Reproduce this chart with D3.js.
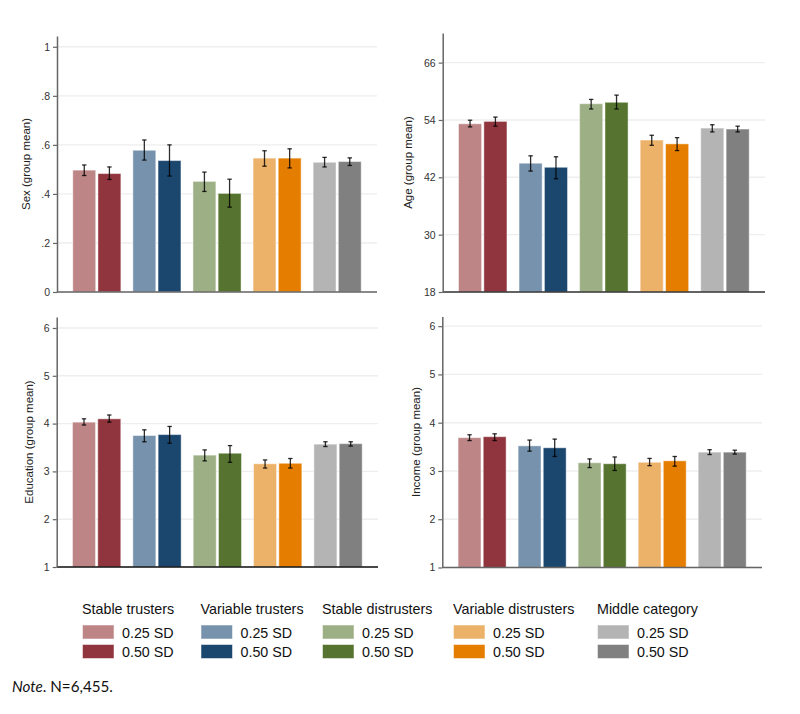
<!DOCTYPE html>
<html>
<head>
<meta charset="utf-8">
<script src="https://cdn.jsdelivr.net/npm/d3@7"></script>
<style>
  body { margin: 0; background: #fff; }
  svg { display: block; }
  .tick text { font-family: "Liberation Sans", Arial, sans-serif; font-size: 10.5px; fill: #333; }
</style>
</head>
<body>
<div id="chart"></div>
<script>
// groups and the two SD thresholds
let groups = ["Stable trusters", "Variable trusters", "Stable distrusters", "Variable distrusters", "Middle category"];
let sds = ["0.25 SD", "0.50 SD"];

// colours, light = 0.25 SD, dark = 0.50 SD
let lightColors = ["#be8587", "#7792ac", "#9daf85", "#edb26a", "#b4b4b4"];
let darkColors = ["#90353d", "#1b466e", "#56742f", "#e57e00", "#808080"];

// values, ordered group by group: [g1 0.25, g1 0.50, g2 0.25, g2 0.50, ...]
let sexMean = [0.497, 0.483, 0.578, 0.536, 0.451, 0.402, 0.546, 0.546, 0.529, 0.532];
let sexLow = [0.475, 0.459, 0.538, 0.473, 0.410, 0.346, 0.513, 0.506, 0.510, 0.516];
let sexHigh = [0.518, 0.510, 0.620, 0.600, 0.489, 0.460, 0.576, 0.584, 0.549, 0.547];

let ageMean = [53.2, 53.7, 44.95, 44.1, 57.4, 57.7, 49.8, 49.0, 52.3, 52.1];
let ageLow = [52.55, 52.7, 43.3, 41.7, 56.3, 56.3, 48.7, 47.6, 51.5, 51.5];
let ageHigh = [53.95, 54.6, 46.5, 46.3, 58.3, 59.2, 50.8, 50.3, 53.0, 52.7];

let eduMean = [4.03, 4.10, 3.75, 3.77, 3.34, 3.38, 3.16, 3.17, 3.57, 3.58];
let eduLow = [3.97, 4.03, 3.62, 3.59, 3.22, 3.19, 3.07, 3.07, 3.52, 3.53];
let eduHigh = [4.10, 4.18, 3.87, 3.94, 3.45, 3.54, 3.24, 3.27, 3.62, 3.62];

let incMean = [3.69, 3.71, 3.52, 3.48, 3.17, 3.15, 3.18, 3.21, 3.39, 3.39];
let incLow = [3.63, 3.63, 3.41, 3.30, 3.07, 3.01, 3.11, 3.10, 3.34, 3.35];
let incHigh = [3.75, 3.77, 3.64, 3.66, 3.25, 3.29, 3.26, 3.30, 3.44, 3.43];

// axis ticks
let sexTicks = [0, 0.2, 0.4, 0.6, 0.8, 1];
let sexTickLabels = ["0", ".2", ".4", ".6", ".8", "1"];
let ageTicks = [18, 30, 42, 54, 66];
let scaleTicks = [1, 2, 3, 4, 5, 6];

let panels = [
  { title: "Sex (group mean)", mean: sexMean, lo: sexLow, hi: sexHigh, domain: [0, 1.044], ticks: sexTicks, labels: sexTickLabels },
  { title: "Age (group mean)", mean: ageMean, lo: ageLow, hi: ageHigh, domain: [18, 72.2], ticks: ageTicks, labels: ageTicks.map(String) },
  { title: "Education (group mean)", mean: eduMean, lo: eduLow, hi: eduHigh, domain: [1, 6.23], ticks: scaleTicks, labels: scaleTicks.map(String) },
  { title: "Income (group mean)", mean: incMean, lo: incLow, hi: incHigh, domain: [1, 6.2], ticks: scaleTicks, labels: scaleTicks.map(String) }
];

// where each panel sits on the page
let layout = [
  { left: 57, right: 377, top: 36, bottom: 292, labelX: 26, xAxisColor: "#666" },
  { left: 442.7, right: 765, top: 33, bottom: 292, labelX: 408, xAxisColor: "#333" },
  { left: 56.7, right: 378, top: 317, bottom: 567, labelX: 29, xAxisColor: "#111" },
  { left: 442.3, right: 762, top: 316.5, bottom: 567.5, labelX: 416, xAxisColor: "#666" }
];

let svg = d3.select("#chart")
  .append("svg")
  .attr("width", 800)
  .attr("height", 714);

panels.forEach(function(p, i) {
  let L = layout[i];
  let g = svg.append("g");

  let y = d3.scaleLinear().domain(p.domain).range([L.bottom, L.top]);

  // outer band for groups, inner band for the two SD bars
  let x0 = d3.scaleBand()
    .domain(groups)
    .range([L.left + 15.8, L.right - 15.8])
    .paddingInner(0.2)
    .paddingOuter(0);
  let x1 = d3.scaleBand()
    .domain(sds)
    .range([0, x0.bandwidth()])
    .paddingInner(0.09);

  // gridlines
  g.selectAll(".grid")
    .data(p.ticks)
    .enter()
    .append("line")
    .attr("x1", L.left)
    .attr("x2", L.right)
    .attr("y1", d => y(d))
    .attr("y2", d => y(d))
    .attr("stroke", "#eeeeee")
    .attr("stroke-width", 1.4);

  let rows = [];
  groups.forEach(function(grp, gi) {
    sds.forEach(function(sd, si) {
      let k = gi * 2 + si;
      rows.push({ grp: grp, sd: sd, gi: gi, si: si, mean: p.mean[k], lo: p.lo[k], hi: p.hi[k] });
    });
  });

  // bars
  g.selectAll(".bar")
    .data(rows)
    .enter()
    .append("rect")
    .attr("x", d => x0(d.grp) + x1(d.sd))
    .attr("width", x1.bandwidth())
    .attr("y", d => y(d.mean))
    .attr("height", d => y(p.domain[0]) - y(d.mean))
    .attr("fill", d => d.si === 0 ? lightColors[d.gi] : darkColors[d.gi])
    .attr("stroke", "rgba(255,255,255,0.45)")
    .attr("stroke-width", 1);

  // error bars
  let err = g.selectAll(".err")
    .data(rows)
    .enter()
    .append("g")
    .attr("stroke", "#000")
    .attr("stroke-opacity", 0.82)
    .attr("stroke-width", 1.3);
  err.append("line")
    .attr("x1", d => x0(d.grp) + x1(d.sd) + x1.bandwidth() / 2)
    .attr("x2", d => x0(d.grp) + x1(d.sd) + x1.bandwidth() / 2)
    .attr("y1", d => y(d.lo))
    .attr("y2", d => y(d.hi));
  err.selectAll(".cap")
    .data(d => [d.lo, d.hi].map(v => ({ cx: x0(d.grp) + x1(d.sd) + x1.bandwidth() / 2, v: v })))
    .enter()
    .append("line")
    .attr("x1", d => d.cx - 2.2)
    .attr("x2", d => d.cx + 2.2)
    .attr("y1", d => y(d.v))
    .attr("y2", d => y(d.v));

  // x axis line
  g.append("line")
    .attr("x1", L.left)
    .attr("x2", L.right)
    .attr("y1", L.bottom)
    .attr("y2", L.bottom)
    .attr("stroke", L.xAxisColor)
    .attr("stroke-width", 1.5);

  // y axis
  let axis = d3.axisLeft(y)
    .tickValues(p.ticks)
    .tickFormat((d, j) => p.labels[j])
    .tickSize(4)
    .tickPadding(3)
    .tickSizeOuter(0);
  let ag = g.append("g")
    .attr("transform", `translate(${L.left}, 0)`)
    .call(axis);
  ag.select(".domain").attr("stroke", "#666").attr("stroke-width", 1.5);
  ag.selectAll(".tick line").attr("stroke", "#666").attr("stroke-width", 1.2);

  // y axis label
  g.append("text")
    .attr("transform", `translate(${L.labelX}, ${(L.top + L.bottom) / 2}) rotate(-90)`)
    .attr("text-anchor", "middle")
    .attr("dy", "0.35em")
    .style("font-family", "'Liberation Sans', Arial, sans-serif")
    .style("font-size", "11.5px")
    .style("fill", "#222")
    .text(p.title);
});

// legend
let legendX = [82, 200.5, 322, 453, 597];
let legend = svg.selectAll(".legend")
  .data(groups)
  .enter()
  .append("g")
  .attr("transform", (d, i) => `translate(${legendX[i]}, 0)`);

legend.append("text")
  .attr("x", 0)
  .attr("y", 614)
  .style("font-family", "'Liberation Sans', Arial, sans-serif")
  .style("font-size", "14.3px")
  .style("fill", "#111")
  .text(d => d);

sds.forEach(function(sd, si) {
  legend.append("rect")
    .attr("x", 0.5)
    .attr("y", 625 + si * 19.5)
    .attr("width", 31.5)
    .attr("height", 14)
    .attr("fill", (d, i) => si === 0 ? lightColors[i] : darkColors[i])
    .attr("stroke", "rgba(255,255,255,0.5)")
    .attr("stroke-width", 1);
  legend.append("text")
    .attr("x", 40)
    .attr("y", 637.5 + si * 19.5)
    .style("font-family", "'Liberation Sans', Arial, sans-serif")
    .style("font-size", "14.3px")
    .style("fill", "#111")
    .text(sd);
});

// note
let note = svg.append("text")
  .attr("x", 12)
  .attr("y", 692)
  .style("font-family", "Lato, 'Open Sans', sans-serif")
  .style("font-size", "15.2px")
  .style("fill", "#111");
note.append("tspan").style("font-style", "italic").text("Note");
note.append("tspan").text(". N=6,455.");
</script>
</body>
</html>
